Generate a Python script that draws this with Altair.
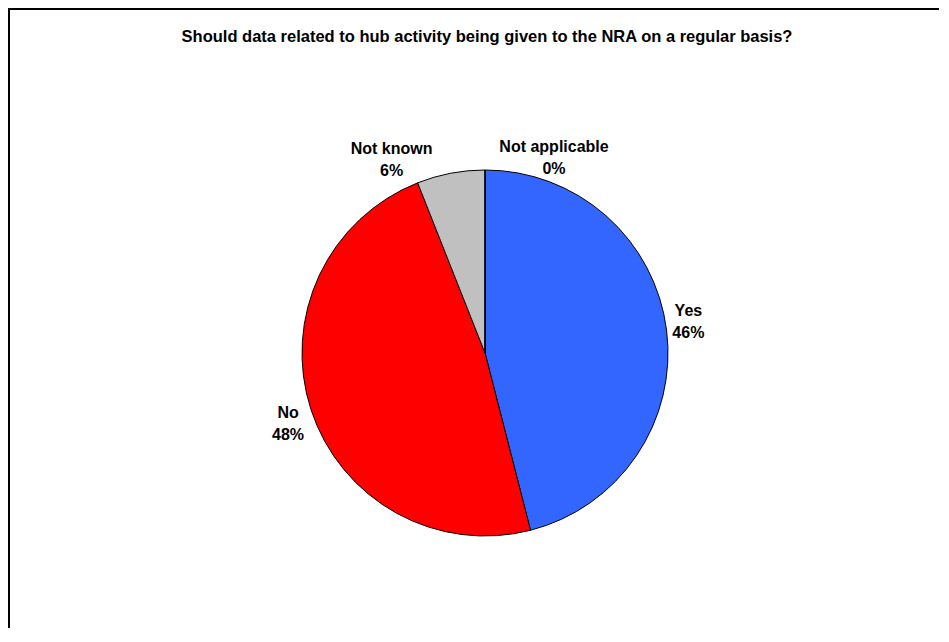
import altair as alt
import pandas as pd

categories = ["Yes", "No", "Not known", "Not applicable"]
percentages = [46, 48, 6, 0]
colors = ["#3366FF", "#FF0000", "#C0C0C0", "#FFFF99"]
title_text = "Should data related to hub activity being given to the NRA on a regular basis?"

df = pd.DataFrame({"category": categories, "pct": percentages, "order": list(range(len(categories)))})
df["label"] = df["category"] + "\n" + df["pct"].astype(str) + "%"

W, H = 931, 620
CX, CY = 477, 345
R = 183
LABEL_R = 205
FONT = "Liberation Sans"

# label nudges (dx, dy) to mimic the original label placement
nudges = {"Yes": (0, -16), "No": (-2, -3), "Not known": (-55, -3), "Not applicable": (69, -1)}

base = alt.Chart(df)

pie = base.mark_arc(outerRadius=R, stroke="black", strokeWidth=1, x=CX, y=CY).encode(
    theta=alt.Theta("pct:Q", stack=True),
    order=alt.Order("order:Q"),
    color=alt.Color("category:N", scale=alt.Scale(domain=categories, range=colors), legend=None),
)

stacked = base.transform_stack(
    stack="pct", as_=["start", "end"], groupby=[], sort=[alt.SortField("order")]
).transform_calculate(mid="(datum.start + datum.end) / 2")

layers = [pie]
for c in categories:
    dx, dy = nudges[c]
    layers.append(
        stacked.transform_filter(alt.datum.category == c).mark_text(
            radius=LABEL_R, x=CX, y=CY, dx=dx, dy=dy, lineBreak="\n",
            font=FONT, fontSize=16, fontWeight="bold", align="center",
            baseline="middle", lineHeight=22, color="black",
        ).encode(
            theta=alt.Theta("mid:Q", scale=alt.Scale(domain=[0, 100]), stack=None),
            text="label:N",
        )
    )

title = alt.Chart(pd.DataFrame({"t": [title_text]})).mark_text(
    x=479, y=29, font=FONT, fontSize=16.5, fontWeight="bold", align="center", baseline="middle", color="black"
).encode(text="t:N")
layers.append(title)

frame_top = alt.Chart(pd.DataFrame({"k": [0]})).mark_rule(color="black", strokeWidth=2).encode(
    x=alt.value(0), x2=alt.value(W + 1), y=alt.value(1)
)
frame_left = alt.Chart(pd.DataFrame({"k": [0]})).mark_rule(color="black", strokeWidth=2).encode(
    x=alt.value(1), y=alt.value(0), y2=alt.value(H + 1)
)
layers += [frame_top, frame_left]

chart = alt.layer(*layers).properties(
    width=W, height=H, autosize=alt.AutoSizeParams(type="none"),
    padding=0,
).configure_view(stroke=None)

chart.save("out.html", embed_options={"renderer": "svg", "actions": False})
